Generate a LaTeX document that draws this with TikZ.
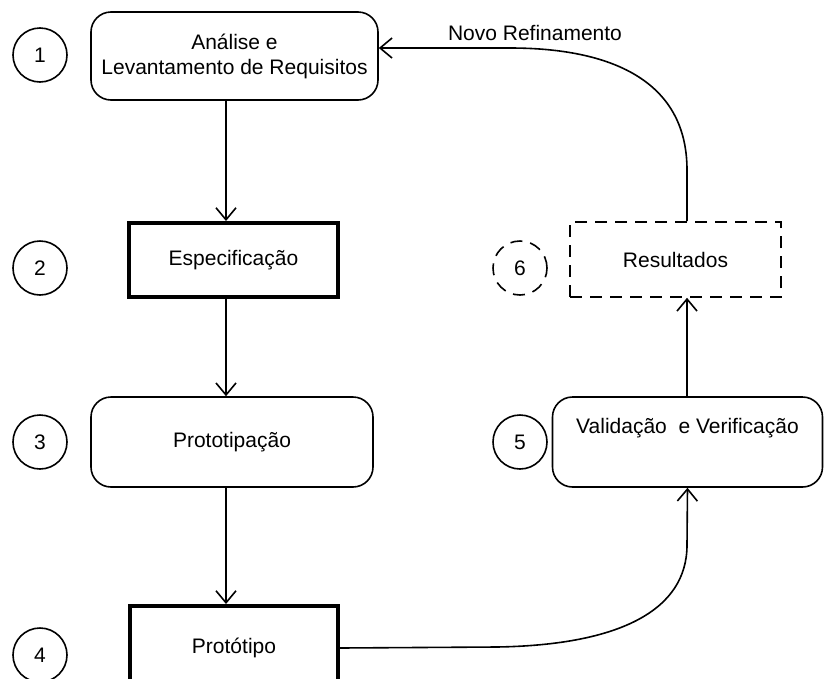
\documentclass[tikz,border=0pt]{standalone}
\usepackage{fontspec}
\setmainfont{Liberation Sans}
\usetikzlibrary{arrows.meta, positioning}

\begin{document}
\begin{tikzpicture}[x=1pt, y=-1pt,
    font=\fontsize{21}{25}\selectfont,
    etapa/.style  = {draw, rounded corners=20pt, line width=1.6pt,
                     align=center, inner sep=0pt},
    marco/.style  = {draw, line width=4pt, inner sep=0pt},
    numero/.style = {draw, circle, line width=1.6pt,
                     minimum size=54pt, inner sep=0pt},
    tracejado/.style = {dash pattern=on 12pt off 8pt},
    seta/.style   = {-{Straight Barb[length=12pt,width=20pt]},
                     line width=1.6pt},
  ]
  \useasboundingbox (0,0) rectangle (825,678);

  % etapas do processo
  \node[etapa, minimum width=287pt, minimum height=88pt] (analise)
    at (234.5,56) {Análise e\\Levantamento de Requisitos};
  \node[marco, minimum width=209pt, minimum height=74pt] (espec)
    at (233.5,260) {Especificação};
  \node[etapa, minimum width=282pt, minimum height=90pt] (proto)
    at (232,442) {Prototipação};
  \node[marco, minimum width=208pt, minimum height=84pt] (prototipo)
    at (234,648) {Protótipo};
  \node[etapa, minimum width=270pt, minimum height=90pt,
        label={[anchor=north, yshift=-19pt]north:Validação~ e Verificação}] (valid)
    at (687.5,442) {};
  \node[draw, tracejado, line width=1.6pt, minimum width=211pt, minimum height=75pt]
    (result) at (675.5,259.5) {Resultados};

  % numeracao
  \node[numero] (n1) at (40,55)  {1};
  \node[numero] (n2) at (40,268) {2};
  \node[numero] (n3) at (40,442) {3};
  \node[numero] (n4) at (40,655) {4};
  \node[numero] (n5) at (520,442) {5};
  \node[numero, tracejado] (n6) at (520,268) {6};

  % ligacoes
  \coordinate (eixo) at (226,0);
  \coordinate (eixoB) at (687,0);
  \coordinate (retorno) at (0,48);
  \draw[seta] (analise.south -| eixo) -- (espec.north -| eixo);
  \draw[seta] (espec.south -| eixo) -- (proto.north -| eixo);
  \draw[seta] (proto.south -| eixo) -- (prototipo.north -| eixo);
  \draw[seta] (prototipo.east) -- (497,647)
    .. controls (620,645) and (687,610) .. (687,545) -- (valid.south);
  \draw[seta] (valid.north -| eixoB) -- (result.south -| eixoB);
  \draw[seta] (result.north -| eixoB) -- (687,170)
    .. controls (687,80) and (610,48) .. (510,48) -- (analise.east |- retorno);
  \node (refino) at (535,33) {Novo Refinamento};
\end{tikzpicture}
\end{document}
